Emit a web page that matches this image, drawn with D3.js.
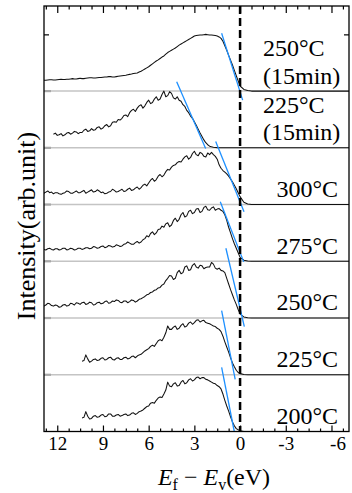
<!DOCTYPE html>
<html><head><meta charset="utf-8">
<script src="https://cdn.jsdelivr.net/npm/d3@7"></script>
<style>html,body{margin:0;padding:0;background:#fff;} svg{display:block;} text{font-family:"Liberation Serif","DejaVu Serif",serif;}</style>
</head><body><svg id="c" width="352" height="493"></svg>
<script>
// Energy grid E_f - E_v (eV), 0.125 eV steps plus flat tail
const energy = [
  13,12.875,12.75,12.625,12.5,12.375,12.25,12.125,
  12,11.875,11.75,11.625,11.5,11.375,11.25,11.125,
  11,10.875,10.75,10.625,10.5,10.375,10.25,10.125,
  10,9.875,9.75,9.625,9.5,9.375,9.25,9.125,
  9,8.875,8.75,8.625,8.5,8.375,8.25,8.125,
  8,7.875,7.75,7.625,7.5,7.375,7.25,7.125,
  7,6.875,6.75,6.625,6.5,6.375,6.25,6.125,
  6,5.875,5.75,5.625,5.5,5.375,5.25,5.125,
  5,4.875,4.75,4.625,4.5,4.375,4.25,4.125,
  4,3.875,3.75,3.625,3.5,3.375,3.25,3.125,
  3,2.875,2.75,2.625,2.5,2.375,2.25,2.125,
  2,1.875,1.75,1.625,1.5,1.375,1.25,1.125,
  1,0.875,0.75,0.625,0.5,0.375,0.25,0.125,
  0,-0.25,-0.5,-0.75,-1,-7.5];

const seriesNames = ["250°C (15min)","225°C (15min)","300°C","275°C","250°C","225°C","200°C"];
const offsets = [6,5,4,3,2,1,0];
const N = null;

const s250_15 = [
  .19,.19,.19,.195,.20,.20,.195,.195,
  .20,.205,.21,.205,.205,.21,.21,.215,
  .22,.215,.215,.22,.225,.22,.22,.225,
  .23,.235,.235,.23,.23,.235,.24,.24,
  .245,.25,.25,.255,.255,.25,.25,.255,
  .26,.265,.27,.275,.28,.29,.295,.30,
  .31,.315,.32,.335,.35,.37,.39,.41,
  .43,.455,.48,.505,.53,.55,.575,.60,
  .62,.65,.68,.70,.72,.74,.76,.785,
  .81,.83,.85,.87,.89,.91,.93,.95,
  .97,.98,.985,.99,.99,.995,1.0,.995,
  .99,.99,.985,.98,.97,.955,.93,.88,
  .80,.72,.63,.545,.46,.365,.27,.18,
  .09,.03,.01,0,0,0];
const s225_15 = [
  N,N,N,N,N,N,.24,.26,
  .22,.23,.25,.21,.23,.26,.27,.24,
  .26,.29,.28,.25,.27,.27,.31,.33,
  .29,.30,.34,.31,.32,.36,.37,.33,
  .35,.39,.41,.37,.39,.45,.46,.45,
  .50,.49,.52,.57,.58,.55,.62,.66,
  .68,.64,.70,.74,.76,.70,.74,.80,
  .84,.78,.80,.86,.90,.84,.86,.94,
  1.0,.90,.92,.99,.96,.88,.86,.90,
  .84,.82,.76,.73,.66,.62,.56,.52,
  .46,.40,.33,.26,.20,.14,.09,.055,
  .03,.018,.012,.007,.004,.002,0,0,
  0,0,0,0,0,0,0,0,
  0,0,0,0,0,0];
const s300 = [
  .22,.20,.22,.24,.21,.22,.19,.21,
  .21,.19,.18,.20,.21,.24,.23,.20,
  .20,.22,.24,.21,.21,.23,.25,.20,
  .22,.24,.26,.22,.23,.26,.24,.21,
  .22,.19,.20,.22,.23,.27,.25,.22,
  .23,.25,.27,.23,.24,.27,.29,.25,
  .26,.29,.31,.27,.30,.34,.36,.33,
  .38,.43,.46,.41,.44,.50,.53,.49,
  .52,.58,.62,.61,.66,.69,.70,.74,
  .76,.75,.80,.84,.86,.80,.83,.90,
  .94,.88,.86,.92,.90,.85,.84,.91,
  .88,.92,.88,.85,.80,.70,.64,.60,
  .57,.54,.50,.45,.40,.34,.28,.21,
  .14,.04,.01,0,0,0];
const s275 = [
  .22,.21,.20,.22,.23,.21,.20,.22,
  .22,.20,.21,.23,.23,.20,.21,.23,
  .22,.20,.21,.23,.23,.21,.22,.24,
  .24,.22,.23,.26,.25,.23,.24,.26,
  .27,.24,.25,.28,.27,.25,.26,.29,
  .28,.26,.27,.30,.31,.34,.32,.30,
  .30,.33,.35,.32,.34,.38,.40,.45,
  .43,.49,.52,.47,.50,.56,.57,.62,
  .60,.66,.68,.61,.64,.72,.76,.70,
  .74,.82,.86,.78,.80,.88,.90,.84,
  .86,.92,.93,.86,.88,.95,.97,.91,
  .90,.94,.96,.90,.92,.93,.90,.88,
  .82,.72,.60,.50,.40,.31,.23,.15,
  .07,.02,.005,0,0,0];
const s250 = [
  .24,.21,.23,.26,.25,.22,.21,.23,
  .22,.19,.20,.23,.24,.21,.22,.26,
  .25,.23,.27,.26,.24,.27,.28,.24,
  .25,.28,.27,.23,.24,.27,.28,.25,
  .26,.29,.30,.26,.27,.30,.29,.32,
  .31,.28,.27,.30,.30,.27,.29,.32,
  .31,.28,.30,.33,.34,.36,.38,.41,
  .42,.45,.46,.49,.50,.53,.54,.58,
  .60,.66,.70,.75,.74,.68,.70,.80,
  .84,.78,.80,.90,.92,.84,.85,.93,
  .96,.90,.88,.93,.92,.87,.89,.90,
  .90,.98,.95,.88,.86,.88,.84,.83,
  .80,.70,.60,.50,.41,.32,.24,.15,
  .07,.02,.005,0,0,0];
const s225 = [
  N,N,N,N,N,N,N,N,
  N,N,N,N,N,N,N,N,
  N,N,N,N,N,.24,.25,.35,
  .28,.22,.24,.27,.28,.25,.26,.29,
  .30,.26,.27,.30,.31,.27,.26,.29,
  .30,.27,.27,.30,.31,.28,.29,.32,
  .33,.30,.33,.35,.36,.39,.42,.44,
  .46,.50,.52,.50,.55,.60,.62,.60,
  .66,.74,.86,.80,.80,.84,.86,.80,
  .82,.87,.90,.84,.86,.91,.93,.89,
  .92,.96,.97,.93,.95,.96,.92,.91,
  .90,.88,.86,.85,.82,.80,.76,.68,
  .58,.49,.40,.30,.21,.14,.08,.04,
  .02,.005,0,0,0,0];
const s200 = [
  N,N,N,N,N,N,N,N,
  N,N,N,N,N,N,N,N,
  N,N,N,N,N,.24,.25,.35,
  .27,.22,.23,.27,.28,.25,.26,.29,
  .30,.26,.27,.31,.31,.27,.27,.29,
  .30,.27,.28,.30,.31,.28,.29,.32,
  .33,.30,.32,.35,.36,.38,.41,.44,
  .45,.50,.51,.50,.55,.59,.61,.60,
  .66,.73,.87,.80,.79,.84,.86,.80,
  .81,.87,.90,.84,.86,.91,.93,.89,
  .91,.95,.96,.93,.95,.95,.92,.91,
  .89,.87,.85,.84,.81,.79,.75,.66,
  .55,.45,.36,.26,.17,.10,.05,.03,
  .015,0,0,0,0,0];
const seriesValues = [s250_15, s225_15, s300, s275, s250, s225, s200];

// Leading-edge linear fits: [E1, I1, E2, I2]
const edgeFits = [
  [1.21, 1.02, -0.17, -0.16],
  [4.16, 1.165, 2.26, -0.01],
  [1.60, 1.11, -0.26, -0.125],
  [1.30, 1.05, -0.24, -0.01],
  [0.93, 1.23, -0.28, -0.15],
  [1.21, 1.13, 0.32, -0.08],
  [1.21, 1.13, 0.38, 0.0]
];

const majorTicks = [12, 9, 6, 3, 0, -3, -6];
const minorTicks = [12.75,11.25,10.5,9.75,8.25,7.5,6.75,5.25,4.5,3.75,2.25,1.5,0.75,-0.75,-1.5,-2.25,-3.75,-4.5,-5.25,-6.75];
const yTicks = [7];
const sepLevels = [1,2,3,4,5,6];

const svg = d3.select("#c");
const L = 44, R = 349, T = 6, B = 431.5;
const x = d3.scaleLinear().domain([12.87, -7.15]).range([L, R]);
const y = d3.scaleLinear().domain([0, 7.5]).range([B, T]);
const serif = "Liberation Serif";

svg.append("defs").append("clipPath").attr("id","clip")
  .append("rect").attr("x",L).attr("y",T).attr("width",R-L).attr("height",B-T);

// separators
svg.append("g").selectAll("line").data(sepLevels).join("line")
  .attr("x1",L).attr("x2",R).attr("y1",d=>y(d)).attr("y2",d=>y(d))
  .attr("stroke","#c4c4c4").attr("stroke-width",1.5);
svg.append("g").selectAll("line").data(sepLevels).join("line")
  .attr("x1",L).attr("x2",L+7).attr("y1",d=>y(d)).attr("y2",d=>y(d))
  .attr("stroke","#a8a8a8").attr("stroke-width",2.2);

const plot = svg.append("g").attr("clip-path","url(#clip)");
seriesValues.forEach((vals,i)=>{
  const pts = energy.map((e,j)=>[e, vals[j]]);
  const line = d3.line().defined(d=>d[1]!=null)
    .x(d=>x(d[0])).y(d=>y(d[1]+offsets[i]));
  plot.append("path").attr("d",line(pts)).attr("fill","none")
    .attr("stroke","#111").attr("stroke-width",1.05).attr("stroke-linejoin","round");
});
edgeFits.forEach((f,i)=>{
  plot.append("line").attr("x1",x(f[0])).attr("y1",y(f[1]+offsets[i]))
    .attr("x2",x(f[2])).attr("y2",y(f[3]+offsets[i]))
    .attr("stroke","#1e90ff").attr("stroke-width",1.3);
});
// zero line
svg.append("line").attr("x1",x(0)).attr("x2",x(0)).attr("y1",T).attr("y2",B)
  .attr("stroke","#000").attr("stroke-width",2.5).attr("stroke-dasharray","8,4");

// frame
svg.append("rect").attr("x",L).attr("y",T).attr("width",R-L).attr("height",B-T)
  .attr("fill","none").attr("stroke","#000").attr("stroke-width",1.3);

function clean(g){ g.select(".domain").remove(); g.selectAll("line").attr("stroke","#000").attr("stroke-width",1.2); }
svg.append("g").attr("transform",`translate(0,${B})`)
  .call(d3.axisBottom(x).tickValues(majorTicks).tickSize(-6).tickPadding(5).tickFormat(d=>String(d)))
  .call(clean)
  .call(g=>g.attr("font-family",null).attr("font-size",null))
  .call(g=>g.selectAll("text").style("font-family",serif).style("font-size","19px").attr("fill","#000")
     .attr("dx",d=>d===-6?6:0));
svg.append("g").attr("transform",`translate(0,${B})`)
  .call(d3.axisBottom(x).tickValues(minorTicks).tickSize(-3).tickFormat(""))
  .call(clean);
svg.append("g").attr("transform",`translate(0,${T})`)
  .call(d3.axisTop(x).tickValues(majorTicks).tickSize(-7).tickFormat(""))
  .call(clean);
svg.append("g").attr("transform",`translate(0,${T})`)
  .call(d3.axisTop(x).tickValues(minorTicks).tickSize(-3.5).tickFormat(""))
  .call(clean);
svg.append("g").attr("transform",`translate(${L},0)`)
  .call(d3.axisLeft(y).tickValues(yTicks).tickSize(-5).tickFormat("")).call(clean);
svg.append("g").attr("transform",`translate(${R},0)`)
  .call(d3.axisRight(y).tickValues(yTicks).tickSize(-5).tickFormat("")).call(clean);

// panel labels
const lab = svg.append("g").style("font-family",serif).style("font-size","24px").attr("fill","#000");
seriesNames.forEach((name,i)=>{
  const base = y(offsets[i]);
  if (name.includes("(15min)")) {
    const parts = name.split(" ");
    lab.append("text").attr("x",263).attr("y",base-35).text(parts[0]);
    lab.append("text").attr("x",263).attr("y",base-7.5).text(parts[1]);
  } else {
    lab.append("text").attr("x",338).attr("y",base-7.7).attr("text-anchor","end").text(name);
  }
});

// axis titles
svg.append("text").attr("transform","translate(35,226) rotate(-90)")
  .attr("text-anchor","middle").style("font-family",serif).style("font-size","26px")
  .text("Intensity(arb.unit)");
const xt = svg.append("text").attr("x",214).attr("y",485).attr("text-anchor","middle")
  .style("font-family",serif).style("font-size","24px");
xt.append("tspan").attr("font-style","italic").text("E");
xt.append("tspan").style("font-size","16px").attr("dy",5).text("f");
xt.append("tspan").attr("dy",-5).text(" − ");
xt.append("tspan").attr("font-style","italic").text("E");
xt.append("tspan").style("font-size","16px").attr("dy",5).text("v");
xt.append("tspan").attr("dy",-5).text("(eV)");
</script></body></html>
